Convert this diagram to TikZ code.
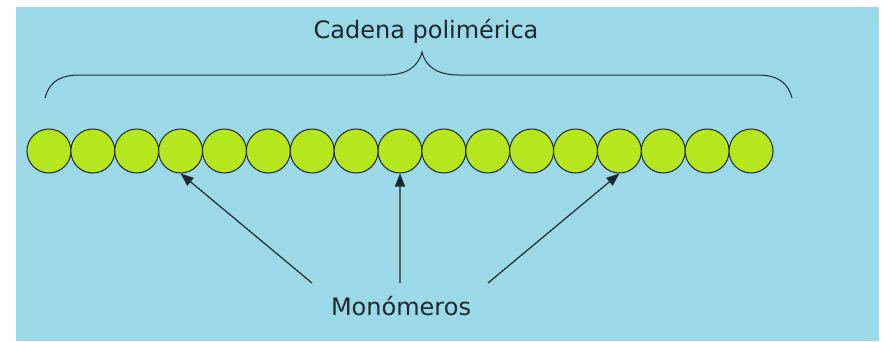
\documentclass[tikz,border=0pt]{standalone}
\usepackage{fontspec}
\setmainfont{DejaVu Sans}
\usetikzlibrary{arrows.meta}
\definecolor{bgblue}{RGB}{155,217,233}
\definecolor{bead}{RGB}{182,230,30}
\definecolor{ink}{RGB}{30,40,45}
\tikzset{
  monomer/.style={circle,draw=ink,line width=1pt,fill=bead,minimum size=44pt,inner sep=0pt},
  lbl/.style={font=\fontsize{24}{28}\selectfont,text=ink,inner sep=0pt},
  pointer/.style={draw=ink,line width=1.2pt,-{Triangle[length=13pt,width=10pt]}},
  bracestyle/.style={draw=ink,line width=1pt}
}
\begin{document}
\begin{tikzpicture}[x=1pt,y=-1pt]
\useasboundingbox (0,0) rectangle (882,341);
\fill[white] (0,0) rectangle (882,341);
\fill[bgblue] (16,7) rectangle (879,341);
% beads
\foreach \i in {1,...,17}{
  \node[monomer] (c\i) at ({27+(\i-0.5)*43.88},151) {};
}
% title and brace
\node[lbl,anchor=base] (title) at (426,38) {Cadena polimérica};
\coordinate (bl) at (45,98);
\coordinate (br) at (792,98);
\coordinate (bt) at (422,52);
\path[bracestyle] (bl) .. controls (50,80) and (62,75) .. (80,75) -- (385,75)
   .. controls (405,75) and (418,68) .. (bt)
   .. controls (426,68) and (439,75) .. (459,75) -- (757,75)
   .. controls (775,75) and (787,80) .. (br);
% label and pointers
\node[lbl,anchor=base] (mono) at (401,315) {Monómeros};
\coordinate (a1) at (312,283);
\coordinate (a2) at (400,283);
\coordinate (a3) at (488,283);
\draw[pointer] (a1) -- (c4.south);
\draw[pointer] (a2) -- (c9.south);
\draw[pointer] (a3) -- (c14.south);
\end{tikzpicture}
\end{document}
